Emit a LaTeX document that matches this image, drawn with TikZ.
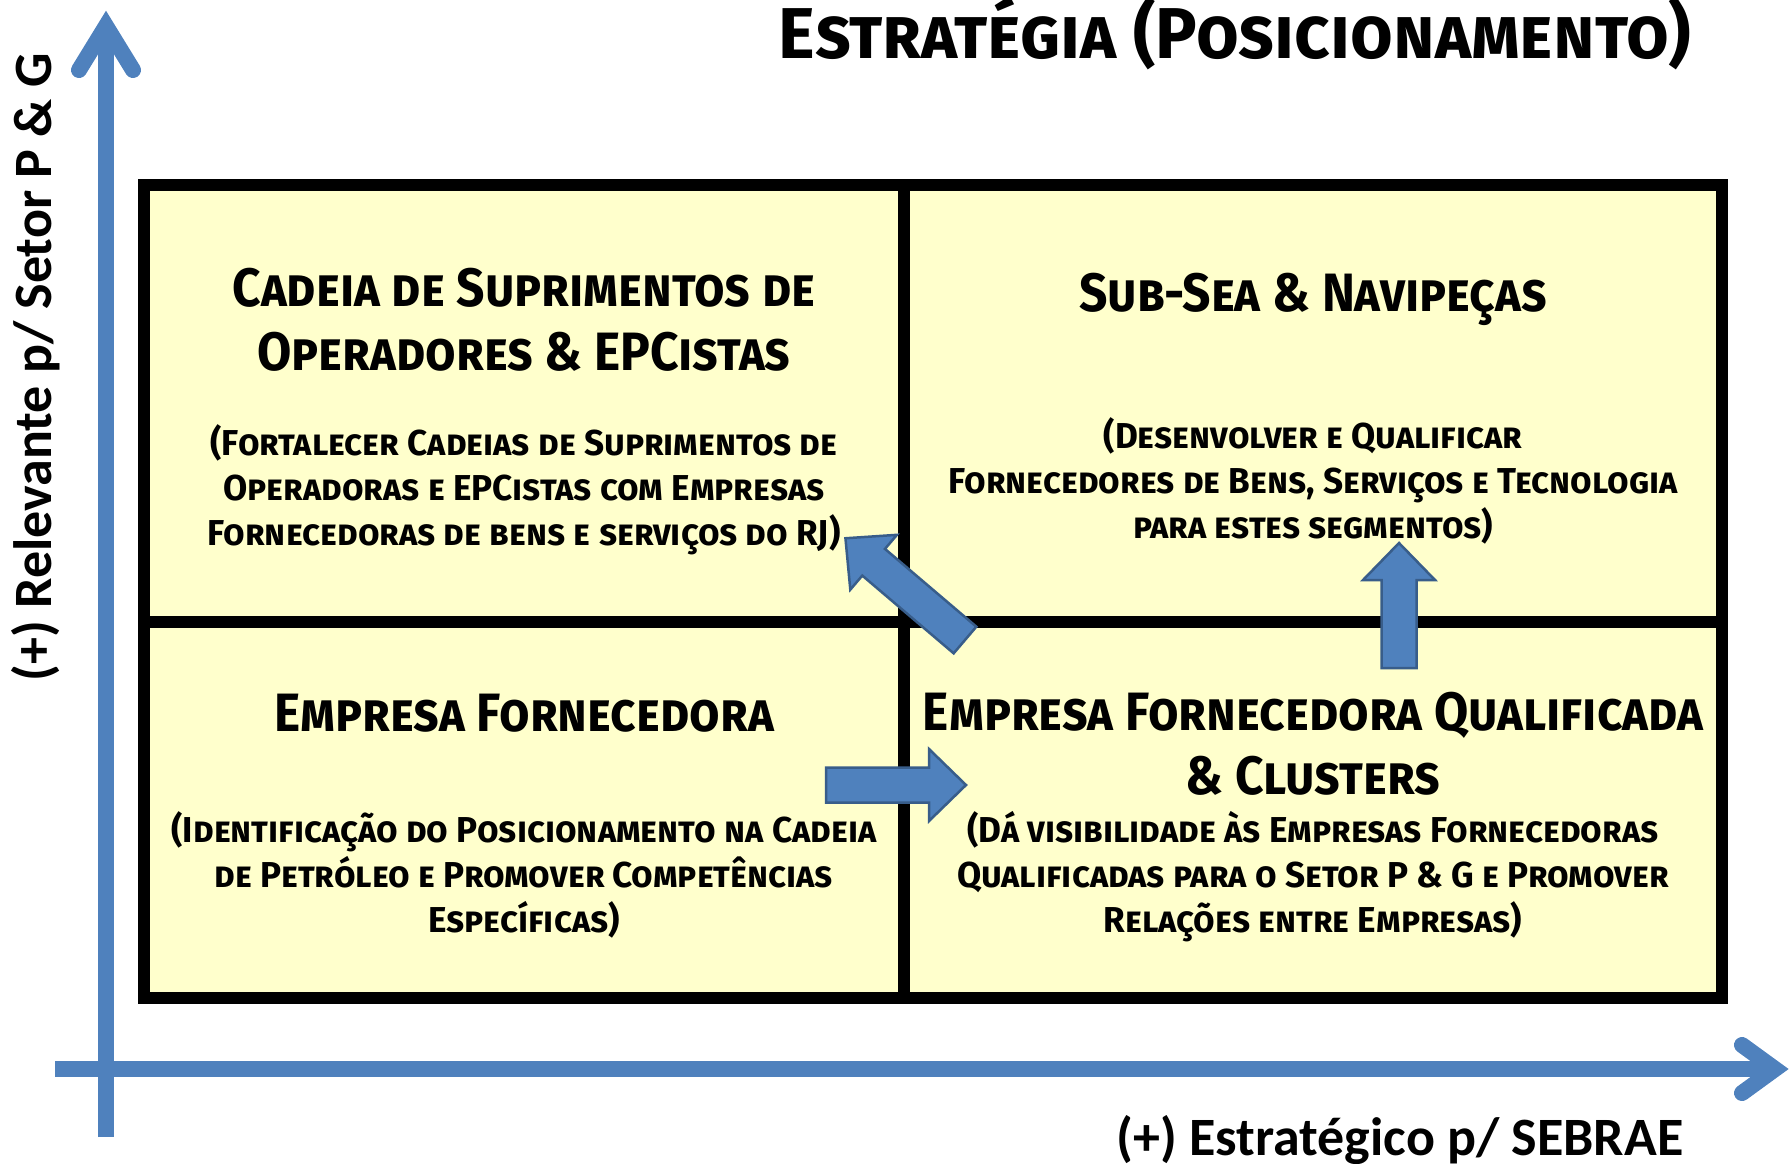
\documentclass[tikz,border=0pt]{standalone}
\usepackage{fontspec}
\setmainfont{Fira Sans}
\newfontfamily\axisfont{Carlito}
\newfontfamily\titlefont{Fira Sans}[FakeStretch=0.965]
\newfontfamily\headfont{Fira Sans}[FakeStretch=0.92]
\newfontfamily\descfont{Fira Sans}[FakeStretch=0.975]
\usetikzlibrary{positioning}
\definecolor{cAxis}{RGB}{79,129,189}
\definecolor{cArrowFill}{RGB}{79,129,189}
\definecolor{cArrowDraw}{RGB}{56,93,138}
\definecolor{cQuad}{RGB}{255,255,204}
\tikzset{
    axisline/.style ={draw=cAxis, line width=8pt},
    gridline/.style ={draw=black, line width=6pt},
    maintitle/.style={font=\titlefont\fontsize{36}{40}\selectfont\bfseries\scshape, inner sep=0pt},
    axislabel/.style={font=\axisfont\fontsize{27}{32}\selectfont\bfseries, inner sep=0pt},
    quadtitle/.style={font=\headfont\fontsize{27}{32}\selectfont\bfseries\scshape, align=center, inner sep=0pt},
    quaddesc/.style ={font=\descfont\fontsize{18}{22.5}\selectfont\bfseries\scshape, align=center, inner sep=0pt},
    bigarrow/.style ={fill=cArrowFill, draw=cArrowDraw, line width=1.25pt, line join=miter},
    pics/blockarr/.style={code={
        \draw[bigarrow] (0,-17.5) -- (#1-37,-17.5) -- (#1-37,-36) -- (#1,0) -- (#1-37,36) -- (#1-37,17.5) -- (0,17.5) -- cycle;}},
}
\begin{document}
\begin{tikzpicture}[x=0.5pt, y=-0.5pt]
    \useasboundingbox (0,0) rectangle (1791,1163);
    % axes
    \coordinate (yBot) at (106,1137);
    \coordinate (yTop) at (106,26);
    \coordinate (xBeg) at (55,1069);
    \coordinate (xEnd) at (1775,1069);
    \draw[axisline] (yBot) -- (yTop);
    \draw[axisline, line cap=round] (yTop) ++(-27,44) -- (yTop) -- ++(27,44);
    \draw[axisline] (xBeg) -- (xEnd);
    \draw[axisline, line cap=round] (xEnd) ++(-33,-24) -- (xEnd) -- ++(-33,24);
    % quadrants
    \coordinate (boxNW) at (144,185);
    \coordinate (boxSE) at (1722,998);
    \fill[cQuad] (boxNW) rectangle (boxSE);
    \draw[gridline] (903.5,185) -- (903.5,998);
    \draw[gridline] (144,622) -- (1722,622);
    \draw[gridline] (boxNW) rectangle (boxSE);
    % texts (anchor base = last line)
    \node[maintitle, anchor=base] (title) at (1235,58) {Estratégia (Posicionamento)};
    \node[axislabel, anchor=base, rotate=90] (ylab) at (51,367) {(+) Relevante p/ Setor P \& G};
    \node[axislabel, anchor=base] (xlab) at (1400,1155) {(+) Estratégico p/ SEBRAE};
    \node[quadtitle, anchor=base] (tlHead) at (524,370) {Cadeia de Suprimentos de\\Operadores \& EPCistas};
    \node[quaddesc, anchor=base] (tlDesc) at (524,545) {(Fortalecer Cadeias de Suprimentos de\\Operadoras e EPCistas com Empresas\\Fornecedoras de bens e serviços do RJ)};
    \node[quadtitle, anchor=base] (trHead) at (1313,311) {Sub-Sea \& Navipeças};
    \node[quaddesc, anchor=base] (trDesc) at (1313,538) {(Desenvolver e Qualificar\\Fornecedores de Bens, Serviços e Tecnologia\\para estes segmentos)};
    \node[quadtitle, anchor=base] (blHead) at (524,731) {Empresa Fornecedora};
    \node[quaddesc, anchor=base] (blDesc) at (524,932) {(Identificação do Posicionamento na Cadeia\\de Petróleo e Promover Competências\\Específicas)};
    \node[quadtitle, anchor=base] (brHead) at (1313,794) {Empresa Fornecedora Qualificada\\\& Clusters};
    \node[quaddesc, anchor=base] (brDesc) at (1313,932) {(Dá visibilidade às Empresas Fornecedoras\\Qualificadas para o Setor P \& G e Promover\\Relações entre Empresas)};
    % arrows between quadrants
    \coordinate (diagTail) at (965,640);
    \coordinate (rightTail) at (826,785);
    \coordinate (upTail) at (1399,668);
    \pic[rotate=139.6] at (diagTail) {blockarr=157};
    \pic at (rightTail) {blockarr=140};
    \pic[rotate=90] at (upTail) {blockarr=125};
\end{tikzpicture}
\end{document}
